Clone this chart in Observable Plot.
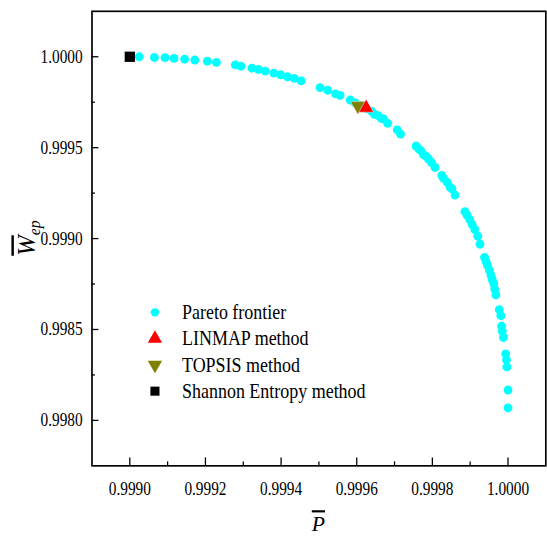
<!DOCTYPE html>
<html><head><meta charset="utf-8">
<script src="https://cdn.jsdelivr.net/npm/d3@7"></script>
<script src="https://cdn.jsdelivr.net/npm/@observablehq/plot@0.6"></script>
<style>html,body{margin:0;padding:0;overflow:hidden;background:#fff}</style>
</head><body><div id="chart"></div>
<script>
// Pareto frontier (P̄, W̄ep)
const paretoP = [0.999025,0.999065,0.999093,0.999117,0.999145,0.999172,0.999205,0.999229,0.999279,0.999294,
  0.999323,0.999340,0.999358,0.999381,0.999399,0.999417,0.999435,0.999453,0.999503,0.999523,
  0.999544,0.999556,0.999583,0.999595,0.999611,0.999626,0.999639,0.999647,0.999657,0.999665,
  0.999671,0.999682,0.999707,0.999716,0.999757,0.999764,0.999770,0.999777,0.999784,0.999790,
  0.999798,0.999807,0.999825,0.999829,0.999839,0.999847,0.999852,0.999860,0.999886,0.999892,
  0.999899,0.999905,0.999912,0.999920,0.999926,0.999938,0.999942,0.999946,0.999951,0.999955,
  0.999958,0.999962,0.999965,0.999968,0.999977,0.999981,0.999983,0.999985,0.999988,0.999994,
  0.999996,0.999997,1.000000,1.000000];
const paretoW = [1.000000,0.999996,0.999995,0.999991,0.999987,0.999982,0.999976,0.999969,0.999955,0.999948,
  0.999937,0.999930,0.999921,0.999910,0.999901,0.999890,0.999881,0.999867,0.999830,0.999816,
  0.999796,0.999787,0.999762,0.999748,0.999732,0.999715,0.999701,0.999683,0.999676,0.999661,
  0.999658,0.999634,0.999598,0.999575,0.999509,0.999494,0.999482,0.999460,0.999452,0.999437,
  0.999418,0.999391,0.999347,0.999332,0.999310,0.999283,0.999273,0.999239,0.999148,0.999127,
  0.999104,0.999078,0.999050,0.999013,0.998969,0.998896,0.998873,0.998852,0.998825,0.998798,
  0.998776,0.998753,0.998722,0.998690,0.998609,0.998576,0.998518,0.998490,0.998456,0.998366,
  0.998333,0.998294,0.998167,0.998069];
const linmapP = [0.999625], linmapW = [0.999719];
const topsisP = [0.999603], topsisW = [0.999730];
const shannonP = [0.999000], shannonW = [1.000000];

const xMajor = [0.9990,0.9992,0.9994,0.9996,0.9998,1.0000];
const xMinor = [0.9991,0.9993,0.9995,0.9997,0.9999];
const yMajor = [0.9980,0.9985,0.9990,0.9995,1.0000];
const yMinor = [0.99825,0.99875,0.99925,0.99975];
const legendLabels = ["Pareto frontier","LINMAP method","TOPSIS method","Shannon Entropy method"];

const pareto = paretoP.map((p,i)=>({p, w: paretoW[i]}));
const linmap = linmapP.map((p,i)=>({p, w: linmapW[i]}));
const topsis = topsisP.map((p,i)=>({p, w: topsisW[i]}));
const shannon = shannonP.map((p,i)=>({p, w: shannonW[i]}));

const triDown = {draw(ctx, size){ const y = -Math.sqrt(size/(3*Math.sqrt(3)));
  ctx.moveTo(0,-y*2); ctx.lineTo(-Math.sqrt(3)*y, y); ctx.lineTo(Math.sqrt(3)*y, y); ctx.closePath(); }};

const W = 556, H = 543, mL = 93, mT = 11, mB = 70, mR = 1.7;
const fW = W - mL - mR, fH = H - mT - mB;
const FONT = "Liberation Serif, Times New Roman, serif";
const fmt = d3.format(".4f");
const CYAN = "#00FFFF", RED = "#FF0000", OLIVE = "#808000";

const legendSyms = [
  {symbol:"circle", fill:CYAN, r:4.3},
  {symbol:"triangle", fill:RED, r:5.4},
  {symbol:triDown, fill:OLIVE, r:5.4},
  {symbol:"square", fill:"black", r:5.2}
];
const legendMarks = legendLabels.flatMap((lab,i)=>[
  Plot.dot([lab], {frameAnchor:"top-left", dx:64, dy:306 + i*26.7, symbol: legendSyms[i].symbol, fill: legendSyms[i].fill, r: legendSyms[i].r, stroke:"none"}),
  Plot.text([lab], {text: d=>d, frameAnchor:"top-left", dx:91.5, dy:306 + i*26.7, textAnchor:"start", lineAnchor:"middle", fontSize:21, fontFamily:FONT, fill:"black", className:"legend-text"})
]);

const chart = Plot.plot({
  width: W, height: H, marginLeft: mL, marginTop: mT, marginBottom: mB, marginRight: mR,
  style: {fontFamily: FONT, fontSize: "19px", background: "white", overflow: "visible"},
  x: {domain: [0.9989, 1.0001]},
  y: {domain: [0.99775, 1.00025]},
  marks: [
    Plot.frame({stroke:"black", strokeWidth:1.7}),
    Plot.tickX(xMajor, {x: d=>d, insetTop: fH - 8, stroke:"black", strokeWidth:1.3}),
    Plot.tickX(xMinor, {x: d=>d, insetTop: fH - 4, stroke:"black", strokeWidth:1.3}),
    Plot.tickY(yMajor, {y: d=>d, insetRight: fW - 7, stroke:"black", strokeWidth:1.3}),
    Plot.tickY(yMinor, {y: d=>d, insetRight: fW - 3.5, stroke:"black", strokeWidth:1.3}),
    Plot.axisX({ticks: xMajor, tickFormat: fmt, tickSize: 0, tickPadding: 16, label: null}),
    Plot.axisY({ticks: yMajor, tickFormat: fmt, tickSize: 0, tickPadding: 9.5, label: null}),
    Plot.dot(pareto, {x:"p", y:"w", r:4.5, fill:CYAN, stroke:"none"}),
    Plot.dot(topsis, {x:"p", y:"w", symbol: triDown, r:5.6, fill:OLIVE, stroke:"white", strokeWidth:0.4}),
    Plot.dot(linmap, {x:"p", y:"w", symbol:"triangle", r:5.6, fill:RED, stroke:"white", strokeWidth:0.4}),
    Plot.dot(shannon, {x:"p", y:"w", symbol:"square", r:5.9, fill:"black", stroke:"none"}),
    ...legendMarks
  ]
});

const svg = d3.select(chart);
// x label  P̄
svg.append("text")
  .attr("transform", `translate(${mL + fW/2},540)`)
  .attr("text-anchor","middle").attr("font-family",FONT).attr("font-style","italic").attr("font-size",22).attr("fill","black")
  .append("tspan").style("text-decoration","overline").text("P");
// y label  W̄ep
const yl = svg.append("text")
  .attr("transform", `translate(36,${mT + fH/2}) rotate(-90)`)
  .attr("text-anchor","middle").attr("font-family",FONT).attr("font-style","italic").attr("font-size",25).attr("fill","black");
yl.append("tspan").style("text-decoration","overline").text("W");
yl.append("tspan").attr("font-size",16).attr("dy",5).text("ep");

document.getElementById("chart").appendChild(chart);

// horizontally condense the upright serif texts (ticks, legend) like the reference
chart.querySelectorAll("text").forEach(t=>{
  if (t.getAttribute("font-style") === "italic") return;
  const inLegend = !!t.closest(".legend-text");
  const SX = inLegend ? 0.87 : 0.82;
  const len = t.getComputedTextLength();
  if (len > 0) {
    t.setAttribute("textLength", (len*SX).toFixed(2));
    t.setAttribute("lengthAdjust", "spacingAndGlyphs");
  }
});
</script></body></html>
